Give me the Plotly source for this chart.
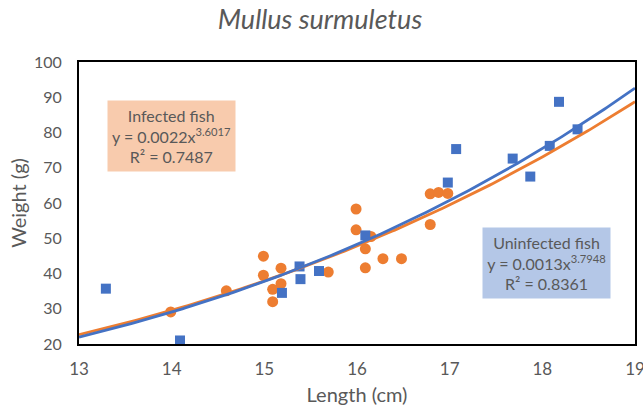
import numpy as np
import plotly.graph_objects as go

# Infected fish (orange circles)
inf_len = [13.99, 14.59, 14.99, 14.99, 15.09, 15.09, 15.18, 15.18, 15.69, 15.99, 15.99,
           16.09, 16.09, 16.15, 16.28, 16.48, 16.79, 16.88, 16.98, 16.79]
inf_wt = [29.1, 35.1, 44.9, 39.5, 35.5, 32.0, 41.5, 37.1, 40.4, 58.3, 52.4,
          47.0, 41.6, 50.5, 44.2, 44.2, 62.6, 63.0, 62.7, 53.9]

# Uninfected fish (blue squares)
uninf_len = [13.29, 14.09, 15.19, 15.38, 15.39, 15.59, 16.09, 16.98, 17.07, 17.68,
             17.87, 18.08, 18.18, 18.38]
uninf_wt = [35.7, 21.0, 34.5, 42.0, 38.4, 40.7, 50.8, 65.8, 75.3, 72.6,
            67.5, 76.2, 88.7, 80.9]

# Power trendline coefficients (y = a * x^b)
inf_a, inf_b = 0.0022, 3.6017
uninf_a, uninf_b = 0.0013, 3.7948

x_ticks = [13, 14, 15, 16, 17, 18, 19]
y_ticks = [20, 30, 40, 50, 60, 70, 80, 90, 100]

ORANGE = "#ED7D31"
BLUE = "#4472C4"
GRAY = "#595959"
FONT = "Lato, 'Open Sans', sans-serif"

xx = np.linspace(13, 19, 200)

fig = go.Figure()
fig.add_trace(go.Scatter(x=inf_len, y=inf_wt, mode="markers",
                         marker=dict(symbol="circle", size=11, color=ORANGE),
                         name="Infected", cliponaxis=False))
fig.add_trace(go.Scatter(x=uninf_len, y=uninf_wt, mode="markers",
                         marker=dict(symbol="square", size=10, color=BLUE),
                         name="Uninfected", cliponaxis=False))
fig.add_trace(go.Scatter(x=xx, y=inf_a * xx ** inf_b, mode="lines",
                         line=dict(color=ORANGE, width=2.8), name="Infected fit"))
fig.add_trace(go.Scatter(x=xx, y=uninf_a * xx ** uninf_b, mode="lines",
                         line=dict(color=BLUE, width=2.8), name="Uninfected fit"))

fig.add_annotation(x=14.0, y=79.1, xref="x", yref="y", showarrow=False,
                   text="Infected fish<br>y = 0.0022x<sup>3.6017</sup><br>R² = 0.7487",
                   font=dict(family=FONT, size=16, color=GRAY),
                   bgcolor="#F8CBAD", width=121, height=64, borderpad=3, align="center")
fig.add_annotation(x=18.04, y=42.9, xref="x", yref="y", showarrow=False,
                   text="Uninfected fish<br>y = 0.0013x<sup>3.7948</sup><br>R² = 0.8361",
                   font=dict(family=FONT, size=16, color=GRAY),
                   bgcolor="#B4C7E7", width=121, height=64, borderpad=3, align="center")

fig.update_layout(
    width=643, height=410,
    margin=dict(l=79, r=8, t=62, b=66, autoexpand=False),
    paper_bgcolor="white", plot_bgcolor="white",
    showlegend=False,
    font=dict(family=FONT, color=GRAY, size=16),
    title=dict(text="Mullus surmuletus", x=320 / 643, xanchor="center",
               y=1 - 20 / 410, yanchor="middle",
               font=dict(family=FONT, size=27, color=GRAY, style="italic")),
)
fig.update_xaxes(range=[13, 19], tickvals=x_ticks, showgrid=False, zeroline=False,
                 showline=True, linecolor="black", linewidth=1.8, mirror=True,
                 ticks="", ticklabelstandoff=9, automargin=False,
                 tickfont=dict(size=17, color=GRAY), ticklabeloverflow="allow",
                 title=dict(text="Length (cm)", font=dict(size=20, color=GRAY), standoff=10))
fig.update_yaxes(range=[20, 100], tickvals=y_ticks, showgrid=False, zeroline=False,
                 showline=True, linecolor="black", linewidth=1.8, mirror=True,
                 ticks="", ticklabelstandoff=12, automargin=False,
                 tickfont=dict(size=16, color=GRAY),
                 title=dict(text="Weight (g)", font=dict(size=20, color=GRAY), standoff=2))

fig.write_html("out.html", config={"displayModeBar": False},
               post_script="document.body.style.margin='0';document.body.style.overflow='hidden';")
